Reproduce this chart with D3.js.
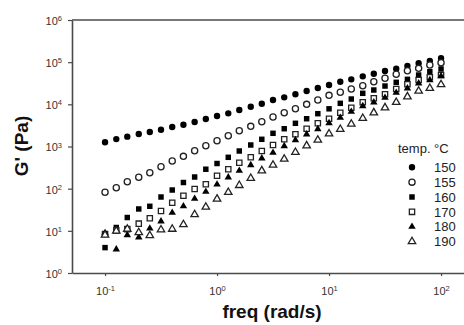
<!DOCTYPE html>
<html>
<head>
<meta charset="utf-8">
<script src="https://cdn.jsdelivr.net/npm/d3@7"></script>
<style>
  body { margin: 0; background: #fff; }
  text { font-family: Arial, "Liberation Sans", sans-serif; }
</style>
</head>
<body>
<svg id="chart"></svg>
<script>
// Frequencies: 10 points per decade, 0.1 to 100 rad/s
const freq = [0.1, 0.126, 0.158, 0.2, 0.251, 0.316, 0.398, 0.501, 0.631, 0.794,
  1, 1.26, 1.58, 2, 2.51, 3.16, 3.98, 5.01, 6.31, 7.94,
  10, 12.6, 15.8, 20, 25.1, 31.6, 39.8, 50.1, 63.1, 79.4, 100];

// G' (Pa) for each temperature
const g150 = [1260, 1500, 1710, 1980, 2210, 2500, 2900, 3290, 3810, 4490,
  5290, 6120, 7330, 8790, 10350, 12650, 14660, 17280, 20700, 24380,
  28730, 34390, 39180, 46150, 53200, 61660, 69960, 81100, 93960, 106400, 123400];
const g155 = [82, 105, 146, 186, 239, 332, 453, 585, 795, 1044,
  1371, 1803, 2368, 3010, 3872, 5004, 6325, 7872, 10000, 12650,
  16360, 19280, 23080, 27660, 34390, 41410, 51520, 62700, 71460, 85540, 97050];
const g160 = [4.0, 12.0, 20.7, 33.0, 38.2, 63.4, 92.9, 140, 189, 289,
  395, 554, 782, 1085, 1482, 2056, 2642, 3548, 4560, 5997,
  7830, 10570, 13370, 18250, 21860, 27170, 33260, 39180, 49560, 59410, 68840];
const g170 = [8.4, 10.1, 11.0, 14.8, 19.8, 29.5, 46.5, 68.1, 98.2, 127,
  202, 288, 413, 554, 782, 1085, 1482, 1945, 2642, 3548,
  4537, 6325, 8318, 11170, 13900, 17280, 23080, 29850, 37740, 43750, 49560];
const g180 = [8.9, 3.65, 7.96, 7.02, 11.4, 16.8, 26.9, 38.4, 57.8, 84.7,
  126, 186, 267, 364, 525, 713, 1027, 1426, 1945, 2600,
  3606, 4819, 6683, 9124, 11170, 14360, 18870, 23990, 31490, 37740, 46960];
const g190 = [7.96, 9.9, 11.0, 9.1, 7.75, 10.6, 11.0, 14.1, 24.4, 36.7,
  56.9, 82, 120, 176, 267, 364, 505, 728, 1044, 1426,
  2000, 2557, 3414, 4660, 6325, 8318, 11170, 15170, 20700, 23990, 29510];

const temps = ["150", "155", "160", "170", "180", "190"];
const seriesValues = [g150, g155, g160, g170, g180, g190];
const xTicks = [0.1, 1, 10, 100];
const yTicks = [1, 10, 100, 1000, 10000, 100000, 1000000];

// marker styles per temperature
const markers = [
  { type: d3.symbolCircle, size: 32, filled: true },
  { type: d3.symbolCircle, size: 30, filled: false },
  { type: d3.symbolSquare, size: 30, filled: true },
  { type: d3.symbolSquare, size: 28, filled: false },
  { type: d3.symbolTriangle, size: 24, filled: true },
  { type: d3.symbolTriangle, size: 24, filled: false }
];

const width = 464, height = 325;
const svg = d3.select("#chart")
    .attr("width", width)
    .attr("height", height);

const plotLeft = 72, plotTop = 20, plotBottom = 273;

const x = d3.scaleLog()
    .domain([Math.pow(10, -1.295), Math.pow(10, 2.205)])
    .range([plotLeft, width]);

const y = d3.scaleLog()
    .domain([1, 1e6])
    .range([plotBottom, plotTop]);

const axisColor = "#4a4a4a";
const labelColor = "#333";

// superscript tick label "10^n"
function powerLabel(sel, v) {
  const e = Math.round(Math.log10(v));
  sel.text("");
  sel.append("tspan").text("10");
  sel.append("tspan")
      .attr("dy", "-0.5em")
      .attr("font-size", "7.5px")
      .text(e < 0 ? "-" + (-e) : e);
}

// top frame line
svg.append("line")
    .attr("x1", plotLeft).attr("x2", width)
    .attr("y1", plotTop).attr("y2", plotTop)
    .attr("stroke", axisColor)
    .attr("stroke-width", 1.6);

// x axis
const gx = svg.append("g")
    .attr("transform", `translate(0,${plotBottom})`)
    .call(d3.axisBottom(x).tickValues(xTicks).tickSize(3).tickSizeOuter(0).tickFormat(""));
gx.select(".domain").attr("stroke", axisColor).attr("stroke-width", 1.6);
gx.selectAll(".tick line").attr("stroke", axisColor).attr("stroke-width", 1.2);
gx.selectAll(".tick").append("text")
    .attr("y", 22)
    .attr("text-anchor", "middle")
    .attr("fill", labelColor)
    .attr("font-size", "11px")
    .each(function(d) { powerLabel(d3.select(this), d); });

// y axis
const gy = svg.append("g")
    .attr("transform", `translate(${plotLeft},0)`)
    .call(d3.axisLeft(y).tickValues(yTicks).tickSize(4).tickSizeOuter(0).tickFormat(""));
gy.select(".domain").attr("stroke", axisColor).attr("stroke-width", 1.6);
gy.selectAll(".tick line").attr("stroke", axisColor).attr("stroke-width", 1.2);
gy.selectAll(".tick").append("text")
    .attr("x", -10)
    .attr("dy", "0.4em")
    .attr("text-anchor", "end")
    .attr("fill", labelColor)
    .attr("font-size", "11px")
    .each(function(d) { powerLabel(d3.select(this), d); });

// axis titles
svg.append("text")
    .attr("x", 272)
    .attr("y", 318)
    .attr("text-anchor", "middle")
    .attr("font-size", "19px")
    .attr("font-weight", "bold")
    .attr("fill", "#111")
    .text("freq (rad/s)");

svg.append("text")
    .attr("transform", "translate(28,146) rotate(-90)")
    .attr("text-anchor", "middle")
    .attr("font-size", "19px")
    .attr("font-weight", "bold")
    .attr("fill", "#111")
    .text("G' (Pa)");

// data points
const symbolGen = d3.symbol();
seriesValues.forEach((vals, i) => {
  const m = markers[i];
  svg.append("g")
    .selectAll("path")
    .data(vals)
    .join("path")
      .attr("transform", (d, j) => `translate(${x(freq[j])},${y(d)})`)
      .attr("d", symbolGen.type(m.type).size(m.size)())
      .attr("fill", m.filled ? "#000" : "#fff")
      .attr("stroke", m.filled ? "none" : "#222")
      .attr("stroke-width", 1.3);
});

// legend
const legend = svg.append("g");
legend.append("text")
    .attr("x", 398)
    .attr("y", 153)
    .attr("font-size", "13px")
    .attr("fill", "#222")
    .text("temp. \u00B0C");

temps.forEach((t, i) => {
  const m = markers[i];
  const cy = 167.3 + i * 14.85;
  legend.append("path")
      .attr("transform", `translate(412,${cy})`)
      .attr("d", d3.symbol().type(m.type).size(m.size)())
      .attr("fill", m.filled ? "#000" : "#fff")
      .attr("stroke", m.filled ? "none" : "#222")
      .attr("stroke-width", 1.3);
  legend.append("text")
      .attr("x", 434)
      .attr("y", cy)
      .attr("dy", "0.36em")
      .attr("font-size", "13px")
      .attr("fill", "#222")
      .text(t);
});
</script>
</body>
</html>
